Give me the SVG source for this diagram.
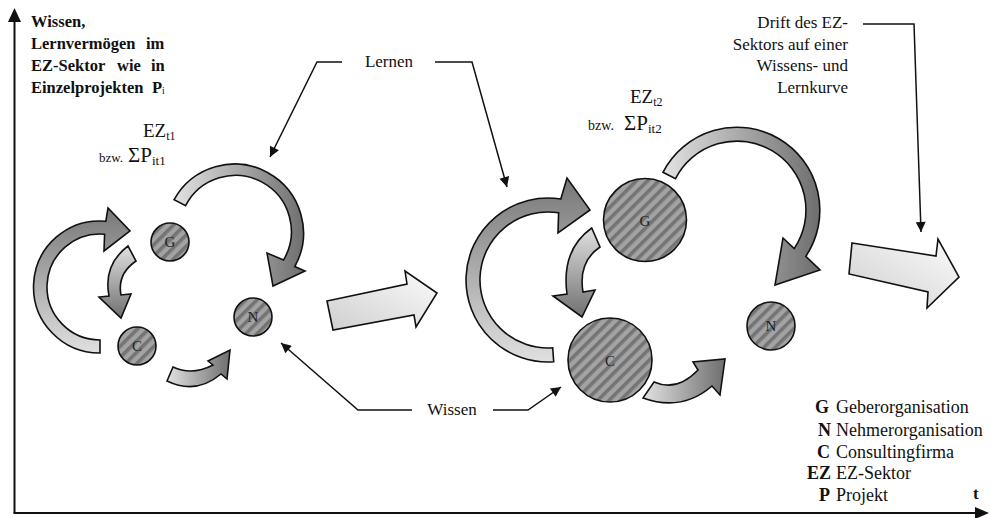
<svg xmlns="http://www.w3.org/2000/svg" width="991" height="518" viewBox="0 0 991 518">
<style>
text{font-family:"Liberation Serif","Times New Roman",serif;fill:#111}
.b{font-weight:bold}
.lbl{font-size:17px}
.lg{font-size:18px}
.blk{stroke:#111;stroke-width:1.6;stroke-linejoin:miter}
.ln{fill:none;stroke:#111;stroke-width:1.5}
.node{fill:url(#stripes);stroke:#111;stroke-width:1.6}
.nt{font-size:15px;text-anchor:middle;fill:#222}
.ttl{font-size:16.5px;font-weight:bold}
</style>
<defs>
<pattern id="stripes" patternUnits="userSpaceOnUse" width="8" height="8" patternTransform="rotate(45)">
<rect width="8" height="8" fill="#a3a3a3"/><rect width="3.6" height="8" fill="#747474"/>
</pattern>
<linearGradient id="gDown" x1="0" y1="0" x2="0" y2="1"><stop offset="0" stop-color="#777"/><stop offset="1" stop-color="#e0e0e0"/></linearGradient>
<linearGradient id="gUp" x1="0" y1="0" x2="0" y2="1"><stop offset="0" stop-color="#e0e0e0"/><stop offset="1" stop-color="#707070"/></linearGradient>
<linearGradient id="gRight" x1="0" y1="0" x2="1" y2="0"><stop offset="0" stop-color="#e2e2e2"/><stop offset="1" stop-color="#6e6e6e"/></linearGradient>
<linearGradient id="gFlat" x1="0" y1="1" x2="1" y2="0"><stop offset="0" stop-color="#cfcfcf"/><stop offset="1" stop-color="#fbfbfb"/></linearGradient>
<marker id="ah" viewBox="0 0 10 10" refX="10" refY="5" markerWidth="12" markerHeight="10" markerUnits="userSpaceOnUse" orient="auto"><path d="M0,0 L10,5 L0,10 Z" fill="#111"/></marker>
</defs>
<rect width="991" height="518" fill="#fff"/>

<g id="axes">
<line x1="14.5" y1="513" x2="14.5" y2="20" stroke="#111" stroke-width="2"/>
<path d="M8,22 L14.5,8 L21,22 Z" fill="#111"/>
<line x1="13.5" y1="513" x2="976" y2="513" stroke="#111" stroke-width="2"/>
<path d="M975,507 L989,513 L975,519 Z" fill="#111"/>
</g>

<g id="title">
<text class="ttl" x="31" y="27">Wissen,</text>
<text class="ttl" x="31" y="49">Lernvermögen<tspan x="146">im</tspan></text>
<text class="ttl" x="31" y="71">EZ-Sektor<tspan x="117">wie</tspan><tspan x="151">in</tspan></text>
<text class="ttl" x="31" y="93">Einzelprojekten<tspan x="152">P</tspan><tspan font-size="10" font-weight="normal" dy="1">i</tspan></text>
</g>

<g id="ez-t1">
<text x="143" y="137" font-size="19">EZ<tspan font-size="12" dy="3">t1</tspan></text>
<text x="99" y="162"><tspan font-size="13">bzw.</tspan><tspan x="128" font-size="21">ΣP</tspan><tspan font-size="13" dy="3">it1</tspan></text>
</g>
<g id="ez-t2">
<text x="630" y="103" font-size="19">EZ<tspan font-size="12" dy="3">t2</tspan></text>
<text x="588" y="130"><tspan font-size="14">bzw.</tspan><tspan x="624" font-size="21">ΣP</tspan><tspan font-size="13" dy="3">it2</tspan></text>
</g>

<g id="connectors">
<path class="blk" fill="url(#gDown)" d="M100,353 A66,66 0 1 1 105.8,221.3 L108,208 L130,231 L104,251 L104.6,234.2 A53,53 0 1 0 100,340 Z"/>
<path class="blk" fill="url(#gUp)" d="M128,246 Q103,265 109,296 L99,297 L121,318 L131,294 L121,295 Q117,274 136,261 Z"/>
<path class="blk" fill="url(#gRight)" d="M173,367 Q192,376 213,365 L208,361 L230,350 L227,379 L221,374 Q196,395 167,381 Z"/>
<path class="blk" fill="url(#gRight)" d="M174.1,199.6 A69,69 0 1 1 294.8,266.5 L305,271 L273,286 L267,253 L283.5,260 A56,56 0 1 0 185.6,205.7 Z"/>
<path class="blk" fill="url(#gFlat)" d="M327,301 L407,284 L405,271 L437,293 L416,327 L414,315 L333,330 Z"/>
<path class="blk" fill="url(#gFlat)" d="M852,243 L936,256 L938,239 L959,277 L927,308 L928,292 L849,274 Z"/>
<path class="blk" fill="url(#gDown)" d="M553.7,361.8 A82,82 0 1 1 560.8,199 L567,178 L590,210 L558,233 L558.6,212.8 A68,68 0 1 0 552.7,347.8 Z"/>
<path class="blk" fill="url(#gUp)" d="M591.7,228 Q561,250 567,294 L553,296 L582,317 L595,290 L583,292 Q578,262 600,247 Z"/>
<path class="blk" fill="url(#gRight)" d="M654,382 Q677,392 698,370 L693,362 L725,359 L720,395 L712,386 Q682,412 643,398 Z"/>
<path class="blk" fill="url(#gRight)" d="M663,172.3 A83,83 0 1 1 805.8,256.4 L820,270 L775,285 L783,238 L794.2,248.6 A69,69 0 1 0 675.5,178.7 Z"/>
<polyline class="ln" points="342,62 317,62 270,157" marker-end="url(#ah)"/>
<polyline class="ln" points="435,62 472,62 507,187" marker-end="url(#ah)"/>
<polyline class="ln" points="412,410 358,410 281,343" marker-end="url(#ah)"/>
<polyline class="ln" points="493,410 528,410 561,387" marker-end="url(#ah)"/>
<polyline class="ln" points="863,24 914,24 921,232" marker-end="url(#ah)"/>
</g>

<g id="labels">
<text class="lbl" x="389" y="67" text-anchor="middle">Lernen</text>
<text class="lbl" x="452" y="415" text-anchor="middle">Wissen</text>
<text class="lbl" x="848" y="28" text-anchor="end">Drift des EZ-</text>
<text class="lbl" x="848" y="49.5" text-anchor="end">Sektors auf einer</text>
<text class="lbl" x="848" y="71" text-anchor="end">Wissens- und</text>
<text class="lbl" x="848" y="92.5" text-anchor="end">Lernkurve</text>
</g>

<g id="node-G1"><circle class="node" cx="170" cy="242" r="19"/><text class="nt" x="170" y="247">G</text></g>
<g id="node-C1"><circle class="node" cx="137" cy="346" r="19"/><text class="nt" x="137" y="351">C</text></g>
<g id="node-N1"><circle class="node" cx="253" cy="317" r="19"/><text class="nt" x="253" y="322">N</text></g>
<g id="node-G2"><circle class="node" cx="645" cy="220" r="41.5"/><text class="nt" x="645" y="226" font-size="17">G</text></g>
<g id="node-C2"><circle class="node" cx="610" cy="360" r="42"/><text class="nt" x="610" y="366" font-size="17">C</text></g>
<g id="node-N2"><circle class="node" cx="771" cy="326" r="24"/><text class="nt" x="771" y="331">N</text></g>

<g id="legend">
<text class="lg b" x="829" y="413" text-anchor="end">G</text><text class="lg" x="836" y="413">Geberorganisation</text>
<text class="lg b" x="831" y="436" text-anchor="end">N</text><text class="lg" x="836" y="436">Nehmerorganisation</text>
<text class="lg b" x="830" y="458" text-anchor="end">C</text><text class="lg" x="836" y="458">Consultingfirma</text>
<text class="lg b" x="831" y="479" text-anchor="end">EZ</text><text class="lg" x="836" y="479">EZ-Sektor</text>
<text class="lg b" x="830" y="501" text-anchor="end">P</text><text class="lg" x="836" y="501">Projekt</text>
<text class="lbl b" x="973" y="499">t</text>
</g>
</svg>
